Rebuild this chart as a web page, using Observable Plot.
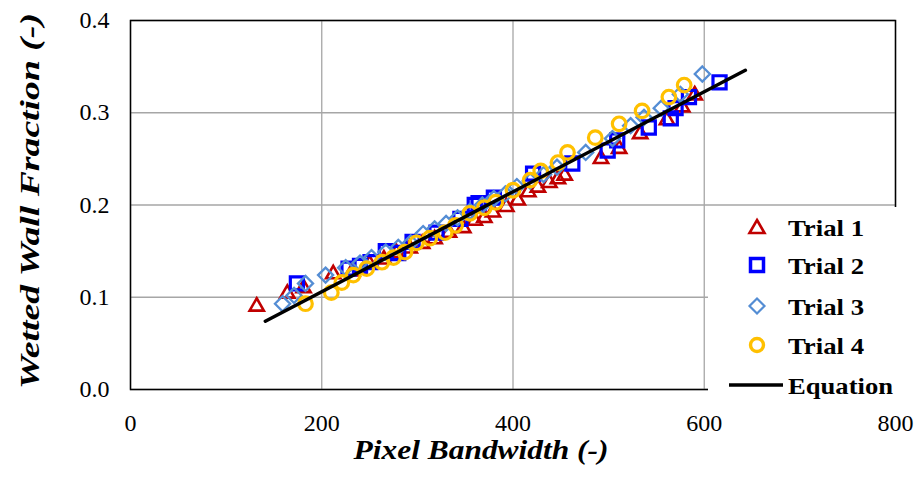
<!DOCTYPE html>
<html>
<head>
<meta charset="utf-8">
<script src="https://cdn.jsdelivr.net/npm/d3@7"></script>
<script src="https://cdn.jsdelivr.net/npm/@observablehq/plot@0.6"></script>
<style>
  html, body { margin: 0; padding: 0; background: white; }
  #wrap { position: relative; width: 920px; height: 481px; }
  #legend { position: absolute; left: 708px; top: 207px; }
</style>
</head>
<body>
<div id="wrap"></div>
<script>
// ---- data ----
const xTicks = [0, 200, 400, 600, 800];
const yTicks = [0, 0.1, 0.2, 0.3, 0.4];

const trial1X = [132, 164, 181, 212, 232, 250, 265, 278, 292, 305, 318, 333, 348, 360, 370, 379, 393, 405, 416, 426, 438, 447, 454, 492, 511, 533, 561, 577, 590];
const trial1Y = [0.090, 0.104, 0.110, 0.125, 0.128, 0.136, 0.141, 0.148, 0.153, 0.158, 0.163, 0.170, 0.175, 0.183, 0.186, 0.192, 0.198, 0.205, 0.214, 0.219, 0.224, 0.228, 0.232, 0.250, 0.261, 0.277, 0.292, 0.306, 0.319];

const trial2X = [174, 228, 240, 251, 267, 280, 295, 320, 345, 360, 364, 380, 421, 462, 499, 509, 542, 565, 570, 584, 616];
const trial2Y = [0.115, 0.131, 0.134, 0.138, 0.150, 0.148, 0.160, 0.170, 0.185, 0.200, 0.202, 0.208, 0.234, 0.245, 0.259, 0.270, 0.284, 0.294, 0.305, 0.317, 0.333];

const trial3X = [159, 171, 183, 204, 225, 240, 252, 267, 280, 293, 306, 318, 330, 342, 355, 368, 380, 392, 404, 418, 432, 446, 476, 504, 523, 537, 555, 575, 598];
const trial3Y = [0.093, 0.102, 0.115, 0.124, 0.132, 0.137, 0.143, 0.149, 0.154, 0.159, 0.169, 0.174, 0.180, 0.186, 0.193, 0.200, 0.207, 0.212, 0.220, 0.226, 0.233, 0.241, 0.257, 0.272, 0.286, 0.295, 0.305, 0.320, 0.342];

const trial4X = [183, 210, 221, 233, 247, 263, 275, 287, 299, 313, 329, 340, 355, 370, 382, 400, 418, 429, 447, 457, 486, 511, 535, 563, 579];
const trial4Y = [0.093, 0.105, 0.116, 0.124, 0.131, 0.138, 0.143, 0.149, 0.159, 0.164, 0.170, 0.178, 0.191, 0.197, 0.203, 0.216, 0.227, 0.237, 0.246, 0.257, 0.273, 0.288, 0.302, 0.317, 0.330];

const equationX = [141, 643];
const equationY = [0.074, 0.346];

const seriesNames = ["Trial 1", "Trial 2", "Trial 3", "Trial 4", "Equation"];

// ---- build tables ----
const zip = (xs, ys) => xs.map((x, i) => ({x, y: ys[i]}));
const t1 = zip(trial1X, trial1Y), t2 = zip(trial2X, trial2Y), t3 = zip(trial3X, trial3Y), t4 = zip(trial4X, trial4Y);
const eq = zip(equationX, equationY);

const FONT = "Times New Roman, Liberation Serif, DejaVu Serif, serif";
const C1 = "#C00000", C2 = "#0000FF", C3 = "#548DD4", C4 = "#FFC000";
const grid = {stroke: "#a6a6a6", strokeOpacity: 1, strokeWidth: 1.3};
const titleFont = {fontSize: 27, fontWeight: "bold", fontStyle: "italic", fill: "black"};

const chart = Plot.plot({
  width: 920, height: 481,
  marginLeft: 130, marginRight: 25, marginTop: 20, marginBottom: 92,
  x: {domain: [0, 800]},
  y: {domain: [0, 0.4]},
  style: {fontFamily: FONT, fontSize: "24px", background: "white", color: "black", overflow: "visible"},
  marks: [
    Plot.gridX(xTicks, grid),
    Plot.gridY(yTicks, grid),
    Plot.frame({stroke: "black", strokeWidth: 1.5}),
    Plot.axisX(xTicks, {tickSize: 0, tickPadding: 24, label: null, fontSize: 24, className: "tickx"}),
    Plot.axisY(yTicks, {tickSize: 0, tickPadding: 21, label: null, fontSize: 24, tickFormat: d3.format(".1f"), className: "ticky"}),
    Plot.dot(t1, {x: "x", y: "y", symbol: "triangle2", r: 6.8, stroke: C1, strokeWidth: 2.6, fill: "none"}),
    Plot.dot(t2, {x: "x", y: "y", symbol: "square", r: 7.4, stroke: C2, strokeWidth: 3.2, fill: "none"}),
    Plot.dot(t3, {x: "x", y: "y", symbol: "diamond2", r: 6.8, stroke: C3, strokeWidth: 2.3, fill: "none"}),
    Plot.dot(t4, {x: "x", y: "y", symbol: "circle", r: 6.8, stroke: C4, strokeWidth: 3.2, fill: "none"}),
    Plot.line(eq, {x: "x", y: "y", stroke: "black", strokeWidth: 3.5}),
    Plot.text(["Pixel Bandwidth (-)"], {frameAnchor: "bottom", dx: -32, dy: 69, ...titleFont, className: "xtitle"}),
    Plot.text(["Wetted Wall Fraction (-)"], {frameAnchor: "left", dx: -100, dy: -4, rotate: -90, ...titleFont, className: "ytitle"})
  ]
});

const wrap = document.getElementById("wrap");
wrap.appendChild(chart);

// condense the serif glyphs horizontally to the narrower Times-like widths of the original
function condense(sel, fn) {
  chart.querySelectorAll(sel).forEach(t => {
    const w = t.getComputedTextLength();
    t.setAttribute("textLength", fn(w));
    t.setAttribute("lengthAdjust", "spacingAndGlyphs");
  });
}
condense(".xtitle text", () => 255);
condense(".ytitle text", () => 376);
// anchor the rotated title explicitly at its start so the condensed text stays centred
chart.querySelectorAll(".ytitle text").forEach(t => {
  t.setAttribute("text-anchor", "start");
  t.style.textAnchor = "start";
  t.setAttribute("x", -188);
});

// ---- legend (white box overlaying the lower right of the plot, as in the original) ----
const ns = "http://www.w3.org/2000/svg";
const lg = document.createElementNS(ns, "svg");
lg.setAttribute("id", "legend");
lg.setAttribute("width", 200);
lg.setAttribute("height", 198);
const rowCenters = [20, 58, 99, 138, 178];
const symbolMarkup = [
  cy => `<path d="M49,${cy - 7} L56.5,${cy + 6} L41.5,${cy + 6} Z" fill="none" stroke="${C1}" stroke-width="2.6"/>`,
  cy => `<rect x="42.5" y="${cy - 6.5}" width="13" height="13" fill="none" stroke="${C2}" stroke-width="3.5"/>`,
  cy => `<path d="M49,${cy - 7.5} L56.5,${cy} L49,${cy + 7.5} L41.5,${cy} Z" fill="none" stroke="${C3}" stroke-width="2.2"/>`,
  cy => `<circle cx="49" cy="${cy}" r="6.5" fill="none" stroke="${C4}" stroke-width="3.4"/>`,
  cy => `<line x1="21" y1="${cy}" x2="75" y2="${cy}" stroke="black" stroke-width="3.5"/>`
];
let inner = `<rect x="0" y="0" width="200" height="198" fill="white"/>`;
seriesNames.forEach((name, i) => {
  const cy = rowCenters[i];
  inner += symbolMarkup[i](cy);
  const tl = name === "Equation" ? 105 : 76;
  inner += `<text x="80" y="${cy + 8.5}" font-family="${FONT}" font-weight="bold" font-size="24" textLength="${tl}" lengthAdjust="spacingAndGlyphs" fill="black">${name}</text>`;
});
lg.innerHTML = inner;
wrap.appendChild(lg);
</script>
</body>
</html>
